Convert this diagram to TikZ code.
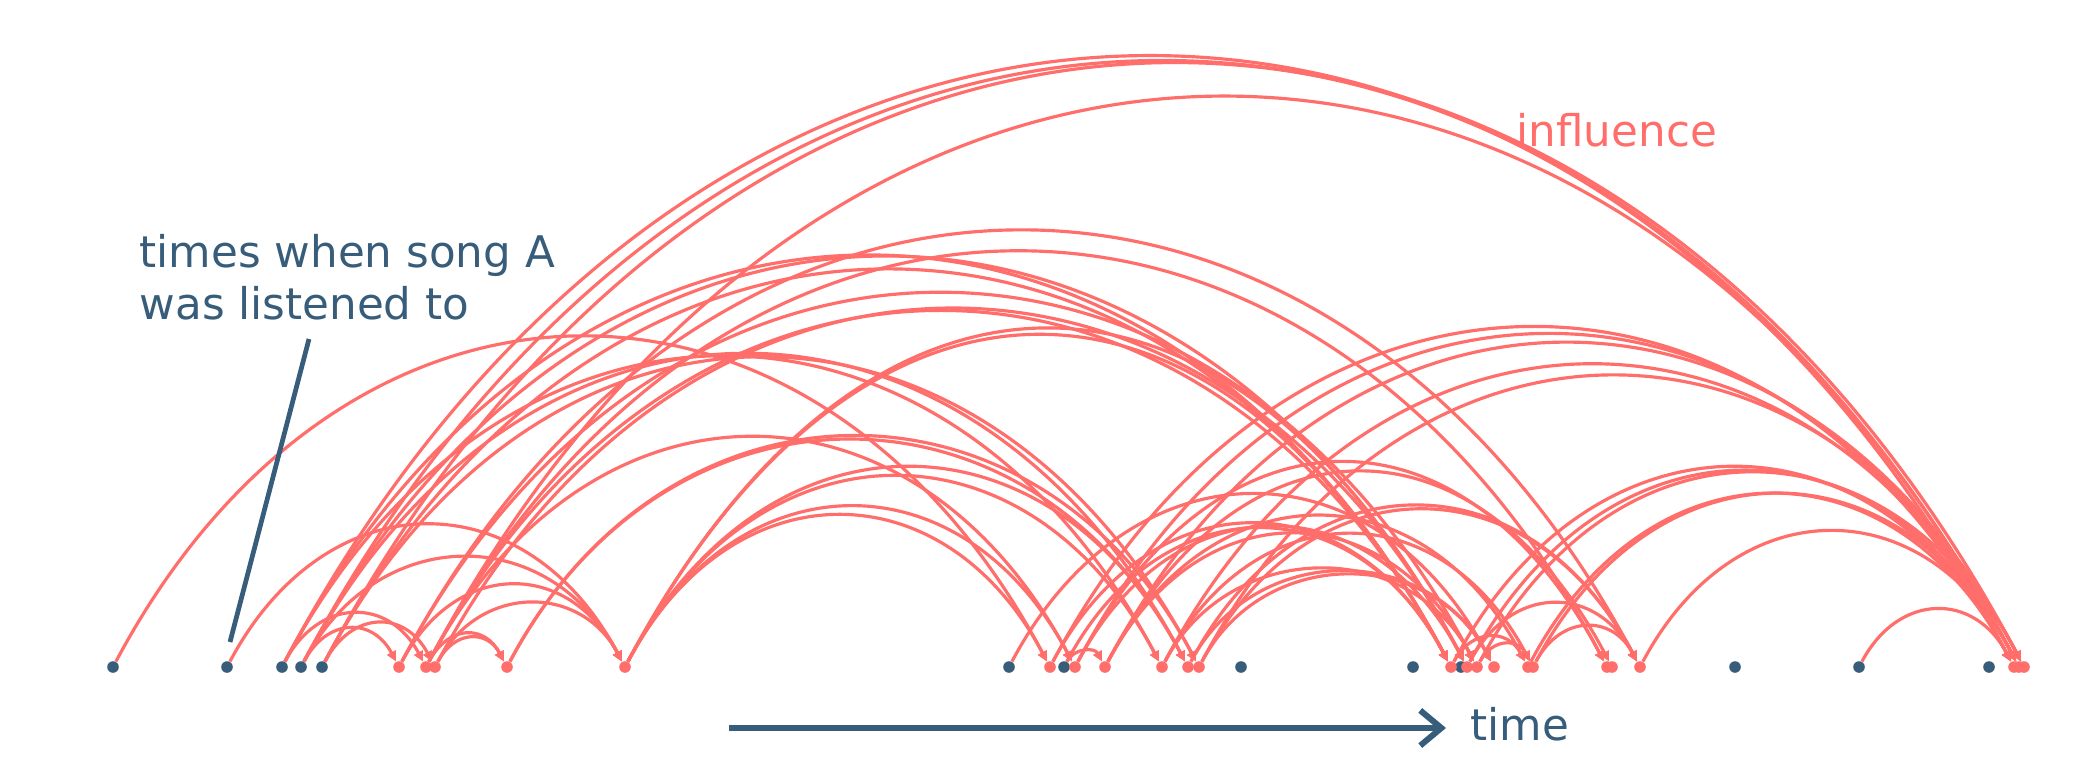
\documentclass[tikz,border=0pt]{standalone}
\usepackage{fontspec}
\setmainfont{DejaVu Sans}
\usetikzlibrary{arrows.meta}
\definecolor{songblue}{RGB}{55,93,122}
\definecolor{infl}{RGB}{255,110,107}
\begin{document}
\begin{tikzpicture}[x=0.01cm,y=0.01cm,
  evt/.style={circle,inner sep=0pt,minimum size=0.11cm},
  infarc/.style={draw=infl,line width=0.9pt,-{Triangle[length=2.9pt,width=2.7pt]},out=62,in=118},
  lbl/.style={font=\fontsize{12.4}{14.6}\selectfont,inner sep=0pt}]
\useasboundingbox[fill=white] (0,0) rectangle (2083,775);
% events
\foreach \n/\x in {b1/113,b2/227,b3/282,b4/301,b5/322,b6/1009,b7/1064,b8/1241,b9/1413,b10/1461,b11/1735,b12/1859,b13/1989,
  r1/399,r2/426,r3/435,r4/507,r5/625,r6/1050,r7/1075,r8/1105,r9/1162,r10/1188,r11/1199,
  r12/1451,r13/1467,r14/1477,r15/1494,r16/1528,r17/1533,r18/1607,r19/1612,r20/1640,r21/2014,r22/2019,r23/2024}
  \node[evt] (\n) at (\x,108) {};
% influence arcs
\foreach \s/\t/\l in {
  b4/r1/1.39, b3/r2/1.35, b5/r3/1.39, b2/r5/1.35, b4/r5/1.27, r1/r5/1.35, r3/r5/1.23, r2/r4/1.43, r3/r4/1.39,
  b3/r21/1.357, b4/r22/1.357, b5/r23/1.365, r2/r22/1.377,
  r1/r20/1.35, r2/r18/1.35, r1/r14/1.33, b3/r12/1.35, b4/r13/1.35, b5/r12/1.35, r2/r12/1.33, r3/r13/1.33, r5/r12/1.54, r5/r13/1.54,
  b1/r6/1.35, b3/r9/1.35, b4/r10/1.35, b5/r11/1.35, r2/r7/1.35, r4/r11/1.27, r4/r10/1.27, r5/r6/1.35, r5/r7/1.35, r5/r9/1.35, r5/r10/1.35, b7/r8/1.16,
  r6/r12/1.35, r7/r13/1.35, r8/r14/1.35, b7/r12/1.35, r9/r14/1.16, r10/r15/1.16, r11/r15/1.16, r7/r18/1.465, r8/r19/1.465,
  b6/r15/1.35, r8/r16/1.35, r9/r17/1.35, r10/r20/1.35, r11/r20/1.35,
  r6/r21/1.35, r7/r22/1.35, r8/r23/1.35, r9/r22/1.35, r11/r23/1.35, r12/r21/1.35, r13/r22/1.35, r14/r23/1.35,
  r16/r21/1.35, r17/r22/1.35, r20/r22/1.35, b12/r21/1.35, r13/r20/1.35, r17/r20/1.35, r12/r16/1.35, r14/r17/1.35}
  \draw[infarc,looseness=\l] (\s) to (\t);
% dots on top
\foreach \n in {b1,b2,b3,b4,b5,b6,b7,b8,b9,b10,b11,b12,b13}
  \fill[songblue] (\n) circle (5.8);
\foreach \n in {r1,r2,r3,r4,r5,r6,r7,r8,r9,r10,r11,r12,r13,r14,r15,r16,r17,r18,r19,r20,r21,r22,r23}
  \fill[infl] (\n) circle (5.8);
% labels
\node[lbl,text=songblue,align=left,anchor=base west] (songlbl) at (139,456) {times when song A\\was listened to};
\coordinate (ptop) at (309,436);
\coordinate (pbot) at (230,133);
\draw[songblue,line width=1.35pt] (ptop) -- (pbot);
\node[lbl,text=infl,anchor=base west] (infllbl) at (1516,629) {influence};
\coordinate (tstart) at (729,47);
\node[lbl,text=songblue,anchor=base west] (timelbl) at (1470,35) {time};
\coordinate (tend) at (1446,47);
\draw[songblue,line width=1.7pt,-{Straight Barb[length=6pt,width=10pt]}] (tstart) -- (tend);
\end{tikzpicture}
\end{document}
